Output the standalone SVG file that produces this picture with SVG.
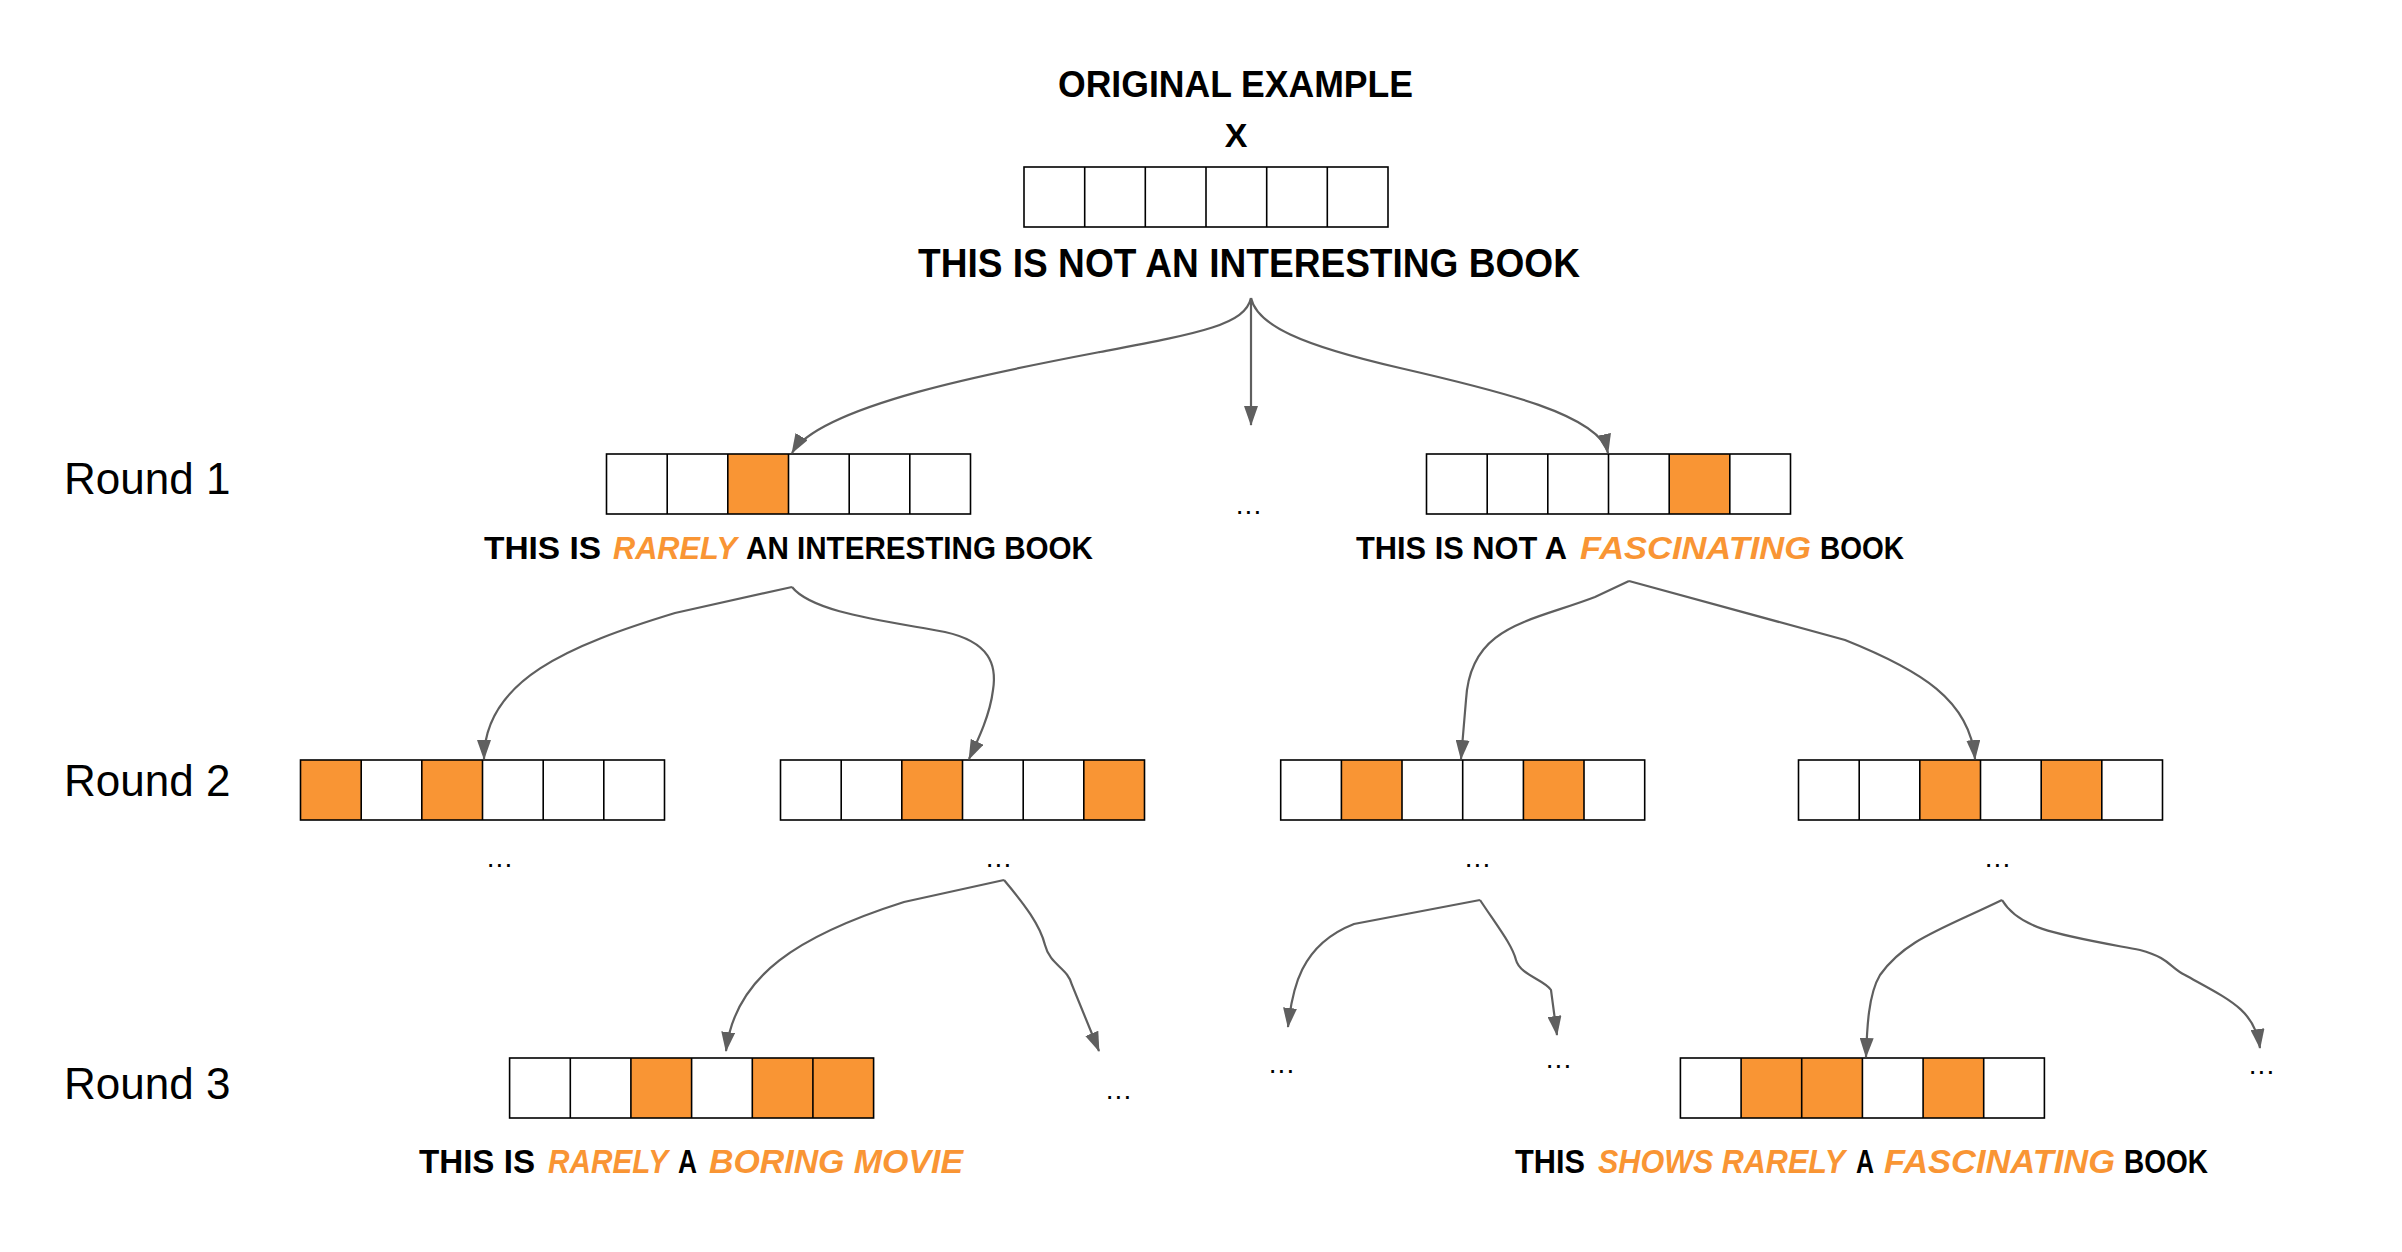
<svg xmlns="http://www.w3.org/2000/svg" xmlns:xlink="http://www.w3.org/1999/xlink" width="2402" height="1252" viewBox="0 0 2402 1252">
<style>
.cm{font-family:"Liberation Sans",Arial,sans-serif;font-weight:bold;fill:#000}
.or{fill:#f99534;font-style:italic}
.rd{font-family:"Liberation Sans",Arial,sans-serif;font-size:44px;fill:#000}
.dt{font-family:"Liberation Sans",Arial,sans-serif;font-size:28px;letter-spacing:1px;fill:#000;text-anchor:middle}
.cell{fill:none;stroke:#000;stroke-width:1.6}
.hl{fill:#f99534}
.ed{fill:none;stroke:#5f5f5f;stroke-width:2.2;marker-end:url(#ah)}
</style>
<defs>
<marker id="ah" viewBox="0 0 20 14" refX="19" refY="7" markerWidth="20" markerHeight="14" orient="auto" markerUnits="userSpaceOnUse"><path d="M0,0 L20,7 L0,14 z" fill="#5f5f5f"/></marker>
<g id="cells">
<rect class="cell" x="0" y="0" width="364" height="60"/>
<path class="cell" d="M60.7,0V60M121.3,0V60M182,0V60M242.7,0V60M303.3,0V60"/>
</g>
</defs>
<rect width="2402" height="1252" fill="#fff"/>

<g id="labels">
<text class="rd" x="64" y="494">Round 1</text>
<text class="rd" x="64" y="796">Round 2</text>
<text class="rd" x="64" y="1099">Round 3</text>
</g>

<g id="original">
<text class="cm" x="1058" y="97" font-size="36" textLength="355" lengthAdjust="spacingAndGlyphs">ORIGINAL EXAMPLE</text>
<text class="cm" x="1236" y="147" font-size="34" text-anchor="middle">X</text>
<use xlink:href="#cells" x="1024" y="167"/>
<text class="cm" x="918" y="277" font-size="40" textLength="662" lengthAdjust="spacingAndGlyphs">THIS IS NOT AN INTERESTING BOOK</text>
</g>

<g id="r1-left">
<rect class="hl" x="728" y="454" width="60.7" height="60"/>
<use xlink:href="#cells" x="606.5" y="454"/>
<text class="cm" y="559" font-size="32"><tspan x="484" textLength="117" lengthAdjust="spacingAndGlyphs">THIS IS</tspan><tspan class="or" x="613" textLength="124" lengthAdjust="spacingAndGlyphs">RARELY</tspan><tspan x="746" textLength="347" lengthAdjust="spacingAndGlyphs">AN INTERESTING BOOK</tspan></text>
</g>

<g id="r1-mid">
<text class="dt" x="1249" y="514">...</text>
</g>

<g id="r1-right">
<rect class="hl" x="1669.3" y="454" width="60.7" height="60"/>
<use xlink:href="#cells" x="1426.5" y="454"/>
<text class="cm" y="559" font-size="32"><tspan x="1356" textLength="211" lengthAdjust="spacingAndGlyphs">THIS IS NOT A</tspan><tspan class="or" x="1580" textLength="231" lengthAdjust="spacingAndGlyphs">FASCINATING</tspan><tspan x="1820" textLength="84" lengthAdjust="spacingAndGlyphs">BOOK</tspan></text>
</g>

<g id="r2-a">
<rect class="hl" x="300.5" y="760" width="60.7" height="60"/>
<rect class="hl" x="421.8" y="760" width="60.7" height="60"/>
<use xlink:href="#cells" x="300.5" y="760"/>
<text class="dt" x="500" y="867">...</text>
</g>

<g id="r2-b">
<rect class="hl" x="901.8" y="760" width="60.7" height="60"/>
<rect class="hl" x="1083.8" y="760" width="60.7" height="60"/>
<use xlink:href="#cells" x="780.5" y="760"/>
<text class="dt" x="999" y="867">...</text>
</g>

<g id="r2-c">
<rect class="hl" x="1341.4" y="760" width="60.7" height="60"/>
<rect class="hl" x="1523.4" y="760" width="60.7" height="60"/>
<use xlink:href="#cells" x="1280.7" y="760"/>
<text class="dt" x="1478" y="867">...</text>
</g>

<g id="r2-d">
<rect class="hl" x="1919.8" y="760" width="60.7" height="60"/>
<rect class="hl" x="2041.2" y="760" width="60.7" height="60"/>
<use xlink:href="#cells" x="1798.5" y="760"/>
<text class="dt" x="1998" y="867">...</text>
</g>

<g id="r3-left">
<rect class="hl" x="630.9" y="1058" width="60.7" height="60"/>
<rect class="hl" x="752.3" y="1058" width="121.3" height="60"/>
<use xlink:href="#cells" x="509.6" y="1058"/>
<text class="cm" y="1173" font-size="34"><tspan x="419" textLength="116" lengthAdjust="spacingAndGlyphs">THIS IS</tspan><tspan class="or" x="548" textLength="120" lengthAdjust="spacingAndGlyphs">RARELY</tspan><tspan x="678" textLength="19" lengthAdjust="spacingAndGlyphs">A</tspan><tspan class="or" x="709" textLength="254" lengthAdjust="spacingAndGlyphs">BORING MOVIE</tspan></text>
</g>

<g id="r3-mid">
<text class="dt" x="1119" y="1099">...</text>
<text class="dt" x="1282" y="1073">...</text>
<text class="dt" x="1559" y="1068">...</text>
</g>

<g id="r3-right">
<rect class="hl" x="1741.1" y="1058" width="121.3" height="60"/>
<rect class="hl" x="1923.1" y="1058" width="60.7" height="60"/>
<use xlink:href="#cells" x="1680.4" y="1058"/>
<text class="cm" y="1173" font-size="34"><tspan x="1515" textLength="70" lengthAdjust="spacingAndGlyphs">THIS</tspan><tspan class="or" x="1598" textLength="247" lengthAdjust="spacingAndGlyphs">SHOWS RARELY</tspan><tspan x="1856" textLength="18" lengthAdjust="spacingAndGlyphs">A</tspan><tspan class="or" x="1884" textLength="231" lengthAdjust="spacingAndGlyphs">FASCINATING</tspan><tspan x="2124" textLength="84" lengthAdjust="spacingAndGlyphs">BOOK</tspan></text>
<text class="dt" x="2262" y="1074">...</text>
</g>

<g id="connectors">
<path class="ed" d="M1251,298 C1245,325 1200,333 1100,352 S820,405 792,453"/>
<path class="ed" d="M1251,298 L1251,425"/>
<path class="ed" d="M1251,298 C1257,325 1300,345 1400,368 S1600,415 1608,453"/>
<path class="ed" d="M792,587 L675,613 C570,645 484,680 484,759"/>
<path class="ed" d="M792,587 C812,612 880,620 945,632 C990,642 997,665 993,690 C990,715 978,740 969,759"/>
<path class="ed" d="M1629,581 L1595,597 C1530,622 1470,625 1466,700 L1461,759"/>
<path class="ed" d="M1629,581 L1845,640 C1920,670 1970,700 1975,759"/>
<path class="ed" d="M1004,880 L904,902 C800,935 735,975 726,1051"/>
<path class="ed" d="M1004,880 C1025,905 1040,925 1045,945 C1050,965 1068,968 1072,985 L1099,1051"/>
<path class="ed" d="M1480,900 L1354,924 C1300,945 1292,990 1288,1027"/>
<path class="ed" d="M1480,900 C1500,930 1512,945 1516,960 C1520,975 1545,980 1551,990 L1557,1035"/>
<path class="ed" d="M2002,900 C1940,930 1905,940 1880,975 C1868,995 1867,1030 1866,1057"/>
<path class="ed" d="M2002,900 C2020,930 2060,935 2140,950 C2170,958 2170,968 2185,975 C2230,1000 2255,1010 2260,1048"/>
</g>
</svg>
